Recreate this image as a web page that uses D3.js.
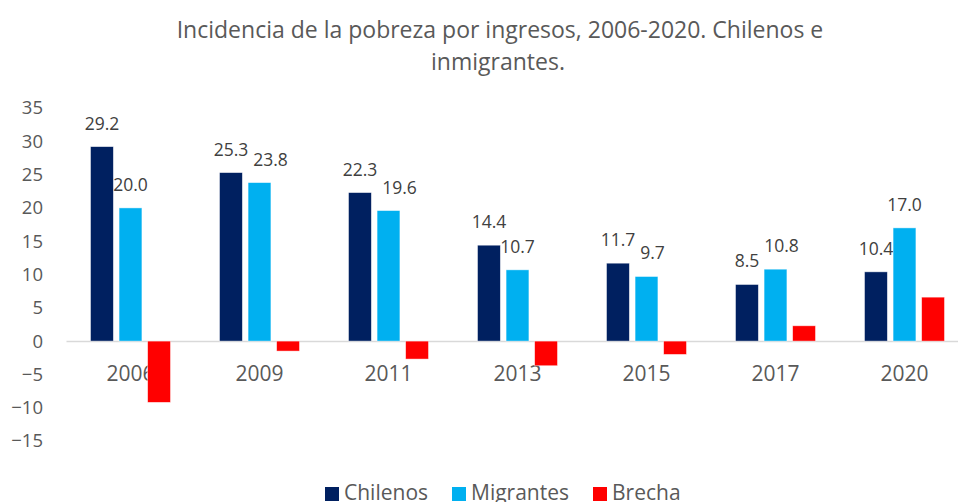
<!DOCTYPE html>
<html>
<head>
<meta charset="utf-8">
<script src="https://cdn.jsdelivr.net/npm/d3@7"></script>
<style>
  body { margin: 0; background: #fff; }
  svg { display: block; font-family: "Open Sans", sans-serif; }
</style>
</head>
<body>
<div id="chart"></div>
<script>
// datos
var years = ["2006", "2009", "2011", "2013", "2015", "2017", "2020"];
var chilenos = [29.2, 25.3, 22.3, 14.4, 11.7, 8.5, 10.4];
var migrantes = [20.0, 23.8, 19.6, 10.7, 9.7, 10.8, 17.0];
var brecha = [-9.2, -1.5, -2.7, -3.7, -2.0, 2.3, 6.6];
var seriesNames = ["Chilenos", "Migrantes", "Brecha"];
var yTicks = [-15, -10, -5, 0, 5, 10, 15, 20, 25, 30, 35];

var width = 958, height = 502,
    textColor = "#595959",
    colors = {Chilenos: "#002060", Migrantes: "#00B0F0", Brecha: "#FF0000"};

var svg = d3.select("#chart").append("svg")
  .attr("width", width)
  .attr("height", height);

// titulo
var title = svg.append("text")
  .attr("text-anchor", "middle")
  .attr("fill", textColor)
  .style("font-size", "23px");
title.append("tspan").attr("x", 500).attr("y", 38)
  .text("Incidencia de la pobreza por ingresos, 2006-2020. Chilenos e");
title.append("tspan").attr("x", 498).attr("y", 70)
  .text("inmigrantes.");

// escalas
var x0 = d3.scaleBand()
  .domain(years)
  .range([66, 969])
  .paddingInner(0.38)
  .paddingOuter(0.19);

var x1 = d3.scaleBand()
  .domain(seriesNames)
  .range([0, x0.bandwidth()])
  .paddingInner(0.2);

var y = d3.scaleLinear()
  .domain([-15, 35])
  .range([441, 108]);

var rows = years.map(function (yr, i) {
  return {year: yr, values: [
    {key: "Chilenos", v: chilenos[i]},
    {key: "Migrantes", v: migrantes[i]},
    {key: "Brecha", v: brecha[i]}
  ]};
});

// eje y
var yAxis = svg.append("g")
  .attr("transform", "translate(43,0)")
  .call(d3.axisLeft(y).tickValues(yTicks).tickSize(0).tickPadding(0));
yAxis.select(".domain").remove();
yAxis.selectAll("text")
  .attr("fill", textColor)
  .style("font-size", "18.5px")
  .style("font-family", "'Open Sans', sans-serif");

// barras
var groups = svg.selectAll("g.grupo")
  .data(rows)
  .enter().append("g")
  .attr("class", "grupo")
  .attr("transform", function (d) { return "translate(" + x0(d.year) + ",0)"; });

groups.selectAll("rect")
  .data(function (d) { return d.values; })
  .enter().append("rect")
  .attr("x", function (d) { return x1(d.key); })
  .attr("y", function (d) { return y(Math.max(0, d.v)); })
  .attr("width", x1.bandwidth())
  .attr("height", function (d) { return Math.abs(y(d.v) - y(0)); })
  .attr("fill", function (d) { return colors[d.key]; })
  .attr("stroke", "#fff")
  .attr("stroke-opacity", 0.6)
  .attr("stroke-width", 0.75);

// etiquetas de datos (solo Chilenos y Migrantes)
groups.selectAll("text.valor")
  .data(function (d) { return d.values.filter(function (e) { return e.key != "Brecha"; }); })
  .enter().append("text")
  .attr("class", "valor")
  .attr("x", function (d) { return x1(d.key) + x1.bandwidth() / 2; })
  .attr("y", function (d) { return y(d.v) - 17; })
  .attr("text-anchor", "middle")
  .attr("fill", "#404040")
  .style("font-size", "17.5px")
  .text(function (d) { return d.v.toFixed(1); });

// si dos etiquetas se tocan, la segunda se corre a la derecha
groups.each(function () {
  var t = d3.select(this).selectAll("text.valor").nodes();
  if (t.length < 2) return;
  var a = t[0].getBBox(), b = t[1].getBBox();
  var overlapX = a.x + a.width - b.x, overlapY = a.y + a.height - b.y;
  if (overlapX > 0 && overlapY > 0 && b.y < a.y + a.height && a.y < b.y + b.height) {
    d3.select(t[1]).attr("x", +d3.select(t[1]).attr("x") + overlapX + 5);
  }
});

// eje x en cero
var xAxis = svg.append("g")
  .attr("transform", "translate(0," + y(0) + ")")
  .call(d3.axisBottom(x0).tickSize(0));
xAxis.select(".domain")
  .attr("stroke", "#D9D9D9")
  .attr("stroke-width", 1.5);
xAxis.selectAll("text")
  .attr("y", 40)
  .attr("dy", 0)
  .attr("fill", textColor)
  .style("font-size", "21px")
  .style("font-family", "'Open Sans', sans-serif");
xAxis.lower();

// leyenda
var legendX = [325, 452, 593];
var legend = svg.selectAll("g.leyenda")
  .data(seriesNames)
  .enter().append("g")
  .attr("class", "leyenda")
  .attr("transform", function (d, i) { return "translate(" + legendX[i] + ",487)"; });
legend.append("rect")
  .attr("width", 14)
  .attr("height", 14)
  .attr("fill", function (d) { return colors[d]; });
legend.append("text")
  .attr("x", 19)
  .attr("y", 13)
  .attr("fill", textColor)
  .style("font-size", "21px")
  .text(function (d) { return d; });
</script>
</body>
</html>
